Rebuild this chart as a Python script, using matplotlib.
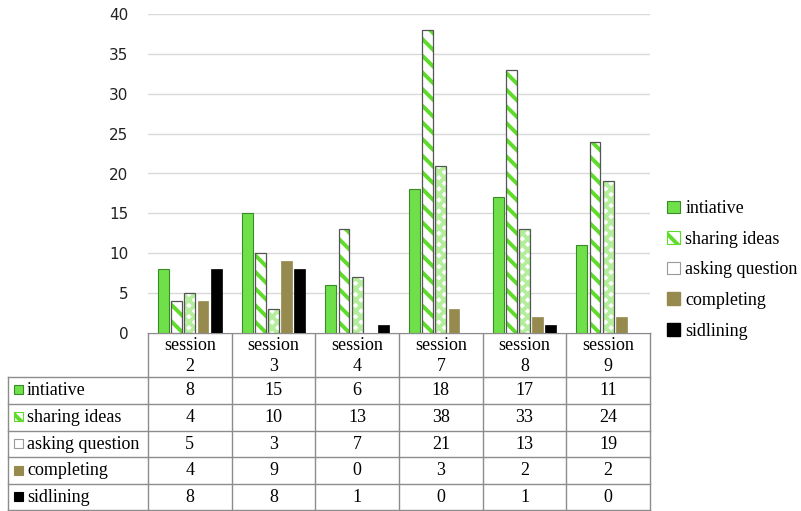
import matplotlib.pyplot as plt
import matplotlib.patches as mpatches
import numpy as np

plt.rcParams["hatch.linewidth"] = 2.8
plt.rcParams["font.serif"] = ["Liberation Serif", "DejaVu Serif"]

SESSIONS = ["session\n2", "session\n3", "session\n4", "session\n7", "session\n8", "session\n9"]
SERIES = ["intiative", "sharing ideas", "asking question", "completing", "sidlining"]
intiative = [8, 15, 6, 18, 17, 11]
sharing_ideas = [4, 10, 13, 38, 33, 24]
asking_question = [5, 3, 7, 21, 13, 19]
completing = [4, 9, 0, 3, 2, 2]
sidlining = [8, 8, 1, 0, 1, 0]
VALUES = [intiative, sharing_ideas, asking_question, completing, sidlining]

GREEN = "#6fe04a"
STRIPE = "#5fdc2a"
OLIVE = "#968a4f"
EDGE = "#555555"
SERIF = "serif"
FS = 13

W, H = 801, 511
fig = plt.figure(figsize=(W / 100, H / 100), dpi=100)

# plot area in pixel coords
X0, X1, Y0, Y1 = 148, 650, 333, 14
ax = fig.add_axes([X0 / W, 1 - Y0 / H, (X1 - X0) / W, (Y0 - Y1) / H])

n = len(SESSIONS)
x = np.arange(n)
pitch = 0.157
width = 0.13
offsets = (np.arange(5) - 2) * pitch


def style_bars(i, xs, vals):
    if i == 0:
        ax.bar(xs, vals, width, color=GREEN, edgecolor="#3a8a2a", linewidth=0.8, zorder=3)
    elif i == 1:
        ax.bar(xs, vals, width, color="white", edgecolor=STRIPE, hatch="\\\\", linewidth=0, zorder=3)
        ax.bar(xs, vals, width, fill=False, edgecolor=EDGE, linewidth=0.9, zorder=4)
    elif i == 2:
        ax.bar(xs, vals, width, color="white", edgecolor="#b4ee9c", hatch="xxx", linewidth=0, zorder=3)
        ax.bar(xs, vals, width, fill=False, edgecolor=EDGE, linewidth=0.9, zorder=4)
    elif i == 3:
        ax.bar(xs, vals, width, color=OLIVE, edgecolor=OLIVE, linewidth=0.5, zorder=3)
    else:
        ax.bar(xs, vals, width, color="black", edgecolor="black", linewidth=0.5, zorder=3)


for i, vals in enumerate(VALUES):
    style_bars(i, x + offsets[i], vals)

ax.set_xlim(-0.5, n - 0.5)
ax.set_ylim(0, 40)
ax.set_yticks(range(0, 41, 5))
ax.set_xticks([])
ax.yaxis.grid(True, color="#d9d9d9", linewidth=1.0, zorder=0)
for s in ax.spines.values():
    s.set_visible(False)
ax.tick_params(axis="y", length=0, pad=14, labelsize=11, labelcolor="#222222")


def legend_handle(i):
    if i == 0:
        return mpatches.Patch(facecolor=GREEN, edgecolor="#3a8a2a", linewidth=0.8)
    if i == 1:
        return mpatches.Patch(facecolor="white", edgecolor=STRIPE, hatch="\\\\", linewidth=0.8)
    if i == 2:
        return mpatches.Patch(facecolor="white", edgecolor="#999999", linewidth=0.8)
    if i == 3:
        return mpatches.Patch(facecolor=OLIVE, edgecolor=OLIVE)
    return mpatches.Patch(facecolor="black", edgecolor="black")


handles = [legend_handle(i) for i in range(5)]
fig.legend(handles, SERIES, loc="center left", bbox_to_anchor=(651 / W, 1 - 270 / H),
           frameon=False, prop={"family": SERIF, "size": FS}, handlelength=0.7,
           handleheight=0.7, handletextpad=0.3, labelspacing=0.75)

# data table below the chart
tab = fig.add_axes([0, 0, 1, 1], zorder=-1)
tab.set_xlim(0, W)
tab.set_ylim(H, 0)
tab.axis("off")

col_edges = np.linspace(X0, X1, n + 1)
row_edges = [333, 377, 404, 431, 457.5, 484, 510]
LEFT = 8
LC = "#8c8c8c"

# header block
for xe in col_edges:
    tab.plot([xe, xe], [row_edges[0], row_edges[-1]], color=LC, lw=1)
tab.plot([LEFT, LEFT], [row_edges[1], row_edges[-1]], color=LC, lw=1)
tab.plot([X0, X1], [row_edges[0], row_edges[0]], color=LC, lw=1)
for ye in row_edges[1:]:
    tab.plot([LEFT, X1], [ye, ye], color=LC, lw=1)

for j, lab in enumerate(SESSIONS):
    cx = (col_edges[j] + col_edges[j + 1]) / 2
    tab.text(cx, (row_edges[0] + row_edges[1]) / 2 + 1, lab, ha="center", va="center",
             family=SERIF, fontsize=FS, linespacing=1.3)

for i, name in enumerate(SERIES):
    cy = (row_edges[i + 1] + row_edges[i + 2]) / 2
    h = handles[i]
    tab.add_patch(mpatches.Rectangle((14, cy - 5), 9, 9, facecolor=h.get_facecolor(),
                                     edgecolor=h.get_edgecolor(), hatch=h.get_hatch(),
                                     linewidth=0.8))
    tab.text(27, cy, name, ha="left", va="center", family=SERIF, fontsize=FS)
    for j, v in enumerate(VALUES[i]):
        cx = (col_edges[j] + col_edges[j + 1]) / 2
        tab.text(cx, cy, str(v), ha="center", va="center", family=SERIF, fontsize=FS)

fig.savefig("out.png", dpi=100, facecolor="white")
